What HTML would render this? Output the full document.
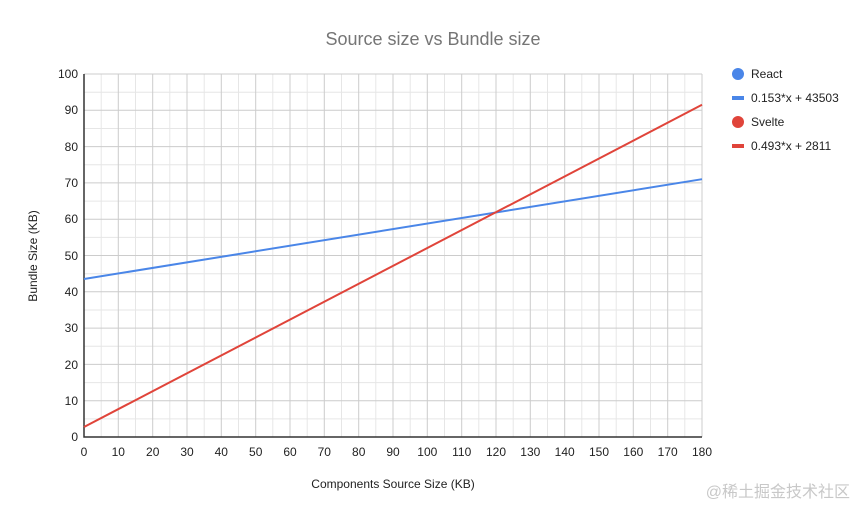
<!DOCTYPE html>
<html><head><style>body{margin:0;background:#fff}</style></head><body>
<svg width="867" height="516" xmlns="http://www.w3.org/2000/svg" font-family="Liberation Sans, Arial, sans-serif">
<rect width="867" height="516" fill="#fff"/>
<text x="433" y="45" text-anchor="middle" font-size="18" fill="#757575">Source size vs Bundle size</text>
<g stroke="#e6e6e6" stroke-width="1">
<!-- minor -->
<path d="M101.2 74V437M135.5 74V437M169.8 74V437M204.2 74V437M238.5 74V437M272.8 74V437M307.2 74V437M341.5 74V437M375.8 74V437M410.2 74V437M444.5 74V437M478.8 74V437M513.2 74V437M547.5 74V437M581.8 74V437M616.2 74V437M650.5 74V437M684.8 74V437"/>
<path d="M84 92.2H702M84 128.5H702M84 164.8H702M84 201.1H702M84 237.4H702M84 273.7H702M84 310H702M84 346.3H702M84 382.6H702M84 418.9H702"/>
</g>
<g stroke="#cccccc" stroke-width="1">
<path d="M118.3 74V437M152.7 74V437M187 74V437M221.3 74V437M255.7 74V437M290 74V437M324.3 74V437M358.7 74V437M393 74V437M427.3 74V437M461.7 74V437M496 74V437M530.3 74V437M564.7 74V437M599 74V437M633.3 74V437M667.7 74V437M702 74V437"/>
<path d="M84 74H702M84 110.3H702M84 146.6H702M84 182.9H702M84 219.2H702M84 255.5H702M84 291.8H702M84 328.1H702M84 364.4H702M84 400.7H702"/>
</g>
<path d="M84 74V437H702" stroke="#333" stroke-width="1.5" fill="none"/>
<g font-size="12" fill="#222" text-anchor="end">
<text x="78" y="78">100</text><text x="78" y="114">90</text><text x="78" y="151">80</text><text x="78" y="187">70</text><text x="78" y="223">60</text><text x="78" y="260">50</text><text x="78" y="296">40</text><text x="78" y="332">30</text><text x="78" y="369">20</text><text x="78" y="405">10</text><text x="78" y="441">0</text>
</g>
<g font-size="12" fill="#222" text-anchor="middle">
<text x="84" y="456">0</text><text x="118.3" y="456">10</text><text x="152.7" y="456">20</text><text x="187" y="456">30</text><text x="221.3" y="456">40</text><text x="255.7" y="456">50</text><text x="290" y="456">60</text><text x="324.3" y="456">70</text><text x="358.7" y="456">80</text><text x="393" y="456">90</text><text x="427.3" y="456">100</text><text x="461.7" y="456">110</text><text x="496" y="456">120</text><text x="530.3" y="456">130</text><text x="564.7" y="456">140</text><text x="599" y="456">150</text><text x="633.3" y="456">160</text><text x="667.7" y="456">170</text><text x="702" y="456">180</text>
</g>
<text x="393" y="488" font-size="12" fill="#222" text-anchor="middle">Components Source Size (KB)</text>
<text transform="translate(37,256) rotate(-90)" font-size="12" fill="#222" text-anchor="middle">Bundle Size (KB)</text>
<line x1="84" y1="279" x2="702" y2="179.2" stroke="#4a86e8" stroke-width="2"/>
<line x1="84" y1="427" x2="702" y2="104.8" stroke="#e0443a" stroke-width="2"/>
<g font-size="12" fill="#222">
<circle cx="738" cy="74" r="6" fill="#4a86e8"/><text x="751" y="78">React</text>
<rect x="732" y="96" width="12" height="4" fill="#4a86e8"/><text x="751" y="102">0.153*x + 43503</text>
<circle cx="738" cy="122" r="6" fill="#e0443a"/><text x="751" y="126">Svelte</text>
<rect x="732" y="144" width="12" height="4" fill="#e0443a"/><text x="751" y="150">0.493*x + 2811</text>
</g>
<text x="850" y="497" font-size="16" fill="#c8c8c8" text-anchor="end" font-family="Liberation Sans, Noto Sans CJK SC, sans-serif">@稀土掘金技术社区</text>
</svg>
</body></html>
